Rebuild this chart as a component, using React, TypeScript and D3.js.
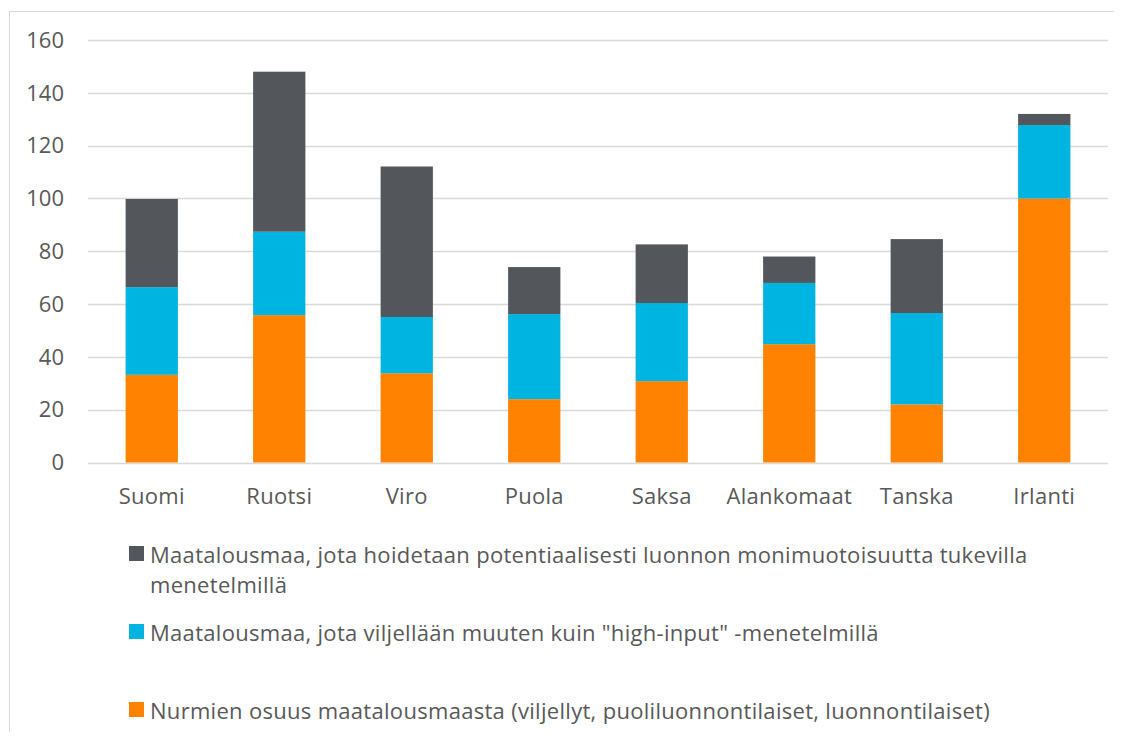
import React, { useEffect, useRef } from 'react';
import * as d3 from 'd3';

const categories = ['Suomi', 'Ruotsi', 'Viro', 'Puola', 'Saksa', 'Alankomaat', 'Tanska', 'Irlanti'];
// stacked segments, bottom to top
const nurmet = [33.2, 55.8, 33.8, 24.0, 30.8, 44.8, 22.0, 100.0];
const nonHighInput = [33.2, 31.6, 21.3, 32.2, 29.6, 23.2, 34.6, 27.8];
const luontoTuki = [33.4, 60.6, 57.0, 17.8, 22.2, 10.0, 28.0, 4.2];

const yTicks = [0, 20, 40, 60, 80, 100, 120, 140, 160];

const legendLabels = [
  'Maatalousmaa, jota hoidetaan potentiaalisesti luonnon monimuotoisuutta tukevilla menetelmillä',
  'Maatalousmaa, jota viljellään muuten kuin "high-input" -menetelmillä',
  'Nurmien osuus maatalousmaasta (viljellyt, puoliluonnontilaiset, luonnontilaiset)',
];
const seriesKeys = ['nurmet', 'nonHighInput', 'luontoTuki'];
const colors: Record<string, string> = {
  nurmet: '#FF8200',
  nonHighInput: '#00B4E1',
  luontoTuki: '#53565A',
};

const W = 1122;
const H = 740;
const FONT = '"Open Sans", "Noto Sans", sans-serif';
const FS = 22;
const LS = 0.3;
const TEXT = '#595959';

export default function App() {
  const svgRef = useRef<SVGSVGElement>(null);

  useEffect(() => {
    const svg = d3.select(svgRef.current);
    svg.selectAll('*').remove();

    // outer chart border (cropped on right and bottom)
    svg.append('rect')
      .attr('x', 9.5).attr('y', 11.5)
      .attr('width', W).attr('height', H)
      .attr('fill', '#fff').attr('stroke', '#d9d9d9');

    const left = 88, right = 1108, top = 40, bottom = 462.5;

    const x = d3.scaleBand().domain(categories).range([left, right]).paddingInner(0.59).paddingOuter(0.295);
    const y = d3.scaleLinear().domain([0, 160]).range([bottom, top]);

    // gridlines
    svg.append('g')
      .selectAll('line')
      .data(yTicks)
      .join('line')
      .attr('x1', left).attr('x2', right)
      .attr('y1', d => Math.round(y(d)) + 0.5).attr('y2', d => Math.round(y(d)) + 0.5)
      .attr('stroke', '#d9d9d9').attr('stroke-width', 1.5);

    // y tick labels
    svg.append('g')
      .selectAll('text')
      .data(yTicks)
      .join('text')
      .attr('x', 64).attr('y', d => y(d))
      .attr('dy', '0.35em')
      .attr('text-anchor', 'end')
      .attr('font-family', FONT).attr('font-size', FS).attr('fill', TEXT)
      .text(d => d);

    const rows = categories.map((c, i) => ({
      category: c,
      nurmet: nurmet[i],
      nonHighInput: nonHighInput[i],
      luontoTuki: luontoTuki[i],
    }));
    const stacked = d3.stack<any>().keys(seriesKeys)(rows);

    svg.append('g')
      .selectAll('g')
      .data(stacked)
      .join('g')
      .attr('fill', d => colors[d.key])
      .selectAll('rect')
      .data(d => d)
      .join('rect')
      .attr('x', d => x(d.data.category)!)
      .attr('width', x.bandwidth())
      .attr('y', d => y(d[1]))
      .attr('height', d => y(d[0]) - y(d[1]));

    // x labels
    svg.append('g')
      .selectAll('text')
      .data(categories)
      .join('text')
      .attr('x', d => x(d)! + x.bandwidth() / 2)
      .attr('y', 504)
      .attr('text-anchor', 'middle')
      .attr('letter-spacing', LS)
      .attr('font-family', FONT).attr('font-size', FS).attr('fill', TEXT)
      .text(d => d);

    // legend (top to bottom: gray, blue, orange)
    const legendKeys = ['luontoTuki', 'nonHighInput', 'nurmet'];
    const legendY = [563, 641, 719];
    const maxWidth = 950;
    legendKeys.forEach((k, i) => {
      const g = svg.append('g');
      g.append('rect')
        .attr('x', 129).attr('y', legendY[i] - 17)
        .attr('width', 15).attr('height', 15)
        .attr('fill', colors[k]);
      const t = g.append('text')
        .attr('x', 150).attr('y', legendY[i])
        .attr('letter-spacing', LS)
        .attr('font-family', FONT).attr('font-size', FS).attr('fill', TEXT);
      const words = legendLabels[i].split(' ');
      let line: string[] = [];
      let tspan = t.append('tspan').attr('x', 150).attr('dy', 0);
      words.forEach(w => {
        line.push(w);
        tspan.text(line.join(' '));
        if ((tspan.node() as SVGTSpanElement).getComputedTextLength() > maxWidth && line.length > 1) {
          line.pop();
          tspan.text(line.join(' '));
          line = [w];
          tspan = t.append('tspan').attr('x', 150).attr('dy', 30).text(w);
        }
      });
    });
  }, []);

  return <svg ref={svgRef} width={W} height={H} style={{ display: 'block', margin: '-8px' }} />;
}
